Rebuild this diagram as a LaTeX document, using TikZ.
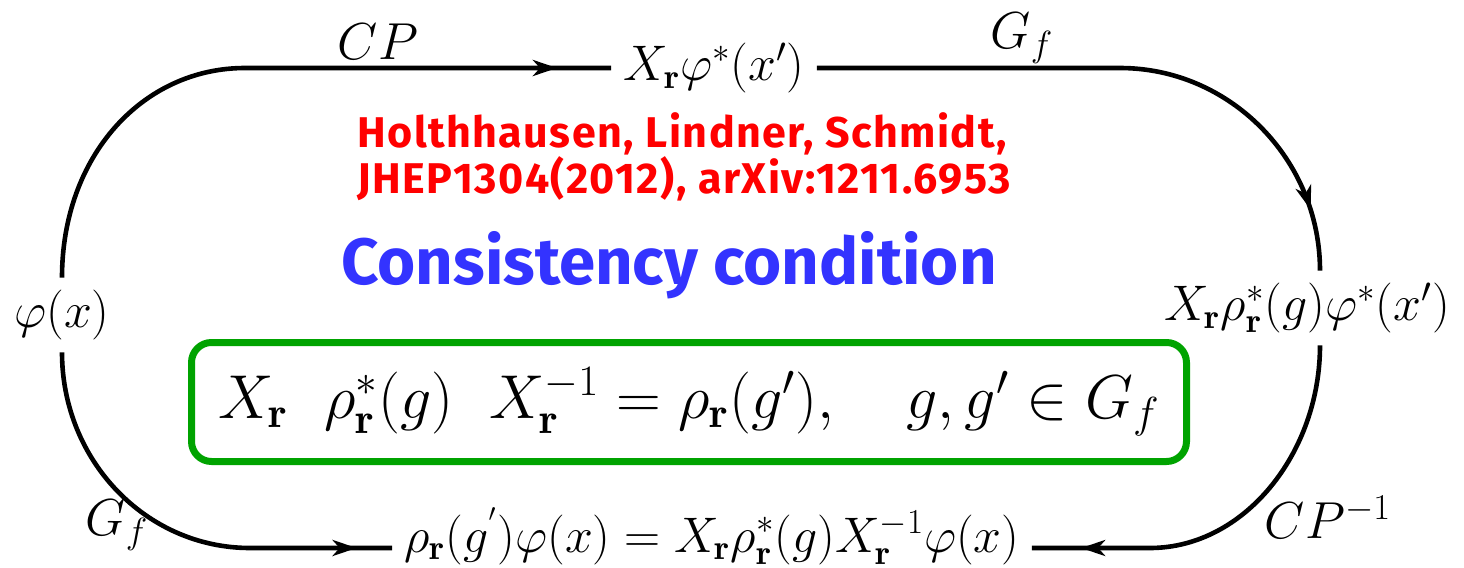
\RequirePackage{fix-cm}
\documentclass[tikz,border=0pt]{standalone}
\usepackage{fontspec}
\newfontfamily\handfont{Fira Sans}
\newfontfamily\handfontwide{Fira Sans}[LetterSpace=3.4]
\usetikzlibrary{arrows.meta,decorations.markings}
\definecolor{refred}{RGB}{255,0,0}
\definecolor{ccblue}{RGB}{51,51,255}
\definecolor{boxgreen}{RGB}{0,163,0}
\begin{document}
\begin{tikzpicture}[x=0.5pt,y=-0.5pt,
  lbl/.style={inner sep=6pt,font=\fontsize{25}{30}\selectfont},
  arrlbl/.style={inner sep=0pt,font=\fontsize{26}{30}\selectfont},
  conn/.style={line width=2.3pt},
  midarrow/.style={postaction={decorate},decoration={markings,
     mark=at position #1 with {\arrow{Stealth[length=12pt,width=8pt,inset=3.5pt]}}}},
  reftext/.style={inner sep=0pt,text=refred,align=left,
     font=\handfontwide\bfseries\fontsize{21.5}{21.5}\selectfont},
  cctext/.style={inner sep=0pt,text=ccblue,font=\handfont\bfseries\fontsize{32.7}{40}\selectfont},
  eqbox/.style={draw=boxgreen,line width=3.5pt,rounded corners=10pt,
     minimum width=497.5pt,minimum height=59.5pt,inner sep=0pt,
     font=\fontsize{31}{36}\selectfont}
]
\useasboundingbox (0,0) rectangle (1464,568);
% state nodes
\node[lbl] (phi) at (62,315) {$\varphi(x)$};
\node[lbl] (top) at (714,68) {$X_{\mathbf r}\varphi^*(x')$};
\node[lbl] (right) at (1307,308) {$X_{\mathbf r}\rho^*_{\mathbf r}(g)\varphi^*(x')$};
\node[lbl,inner ysep=1pt] (bottom) at (712,536) {$\rho_{\mathbf r}(g^{'})\varphi(x) = X_{\mathbf r}\rho^*_{\mathbf r}(g)X^{-1}_{\mathbf r}\varphi(x)$};
% corner coordinates
\coordinate (tl) at (245,68);
\coordinate (tr) at (1120,68);
\coordinate (bl) at (250,548);
\coordinate (br) at (1150,548);
% connectors
\draw[conn,midarrow=0.92] (phi.north) .. controls +(0,-122) and +(-102,0) .. (tl) -- (top.west);
\draw[conn,midarrow=0.90] (top.east) -- (tr) .. controls +(110,0) and +(0,-111) .. ([xshift=6.5pt]right.north);
\draw[conn,midarrow=0.88] ([xshift=6.5pt]right.south) .. controls +(0,108) and +(94,0) .. (br) -- (br -| bottom.east);
\draw[conn,midarrow=0.92] (phi.south) .. controls +(0,108) and +(-104,0) .. (bl) -- (bl -| bottom.west);
% arrow labels
\node[arrlbl] (lcp) at (378,42) {$CP$};
\node[arrlbl] (lgf1) at (1022,38) {$G_f$};
\node[arrlbl] (lgf2) at (117,525) {$G_f$};
\node[arrlbl] (lcpi) at (1328,517) {$CP^{-1}$};
% texts
\node[reftext,anchor=west] (ref) at (357,157) {Holthhausen, Lindner, Schmidt,\\JHEP1304(2012), arXiv:1211.6953};
\node[cctext] (cc) at (669,265) {Consistency condition};
\node[eqbox] (eq) at (689,402) {$X_{\mathbf r}\;\ \rho^*_{\mathbf r}(g)\;\ X_{\mathbf r}^{-1} = \rho_{\mathbf r}(g'),\quad g,g'\in G_f$};
\end{tikzpicture}
\end{document}
